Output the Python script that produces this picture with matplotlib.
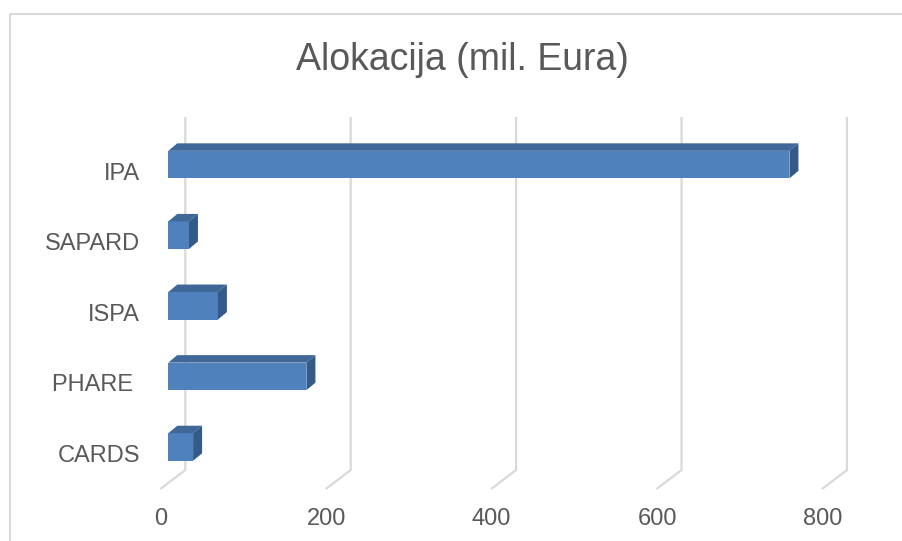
import numpy as np
import matplotlib
matplotlib.use('Agg')
import matplotlib.pyplot as plt
from matplotlib.patches import Polygon
from matplotlib.lines import Line2D

# data (mil. Eura)
categories = ['CARDS', 'PHARE ', 'ISPA', 'SAPARD', 'IPA']
values = [30, 167, 60, 25, 751]
xticks = [0, 200, 400, 600, 800]

plt.rcParams['font.family'] = ['Liberation Sans', 'DejaVu Sans']
TXT = '#595959'
GRID = '#D9D9D9'
FRONT = '#4F81BD'
TOP = '#3F6899'
SIDE = '#335A88'

W, H = 903, 541
fig = plt.figure(figsize=(W / 100, H / 100), dpi=100)
# plot area (pixels): left 150, right 880, top 100, bottom 495
ax = fig.add_axes([150 / W, 46 / H, 730 / W, 395 / H])
ax.set_xlim(-22.1, 860.5)
ax.set_ylim(-0.68, 4.915)
ax.axis('off')

# pixel -> data units
sx = 730 / (860.5 + 22.1)
sy = 395 / (4.915 + 0.68)
def ux(px):
    return px / sx
def uy(px):
    return px / sy

ypos = np.arange(len(categories))

# back wall gridlines with the slanted floor part
y_top, y_corner = 4.675, -0.326
for v in xticks:
    xb = v + ux(17)
    ax.plot([xb, xb, xb - ux(25)], [y_top, y_corner, y_corner - uy(19)],
            color=GRID, lw=1.6, zorder=1, solid_joinstyle='miter',
            solid_capstyle='butt')

# 3d-ish bars: front face + top face + right face
h = 0.39
dx, dy = ux(9), uy(7.5)
ax.barh(ypos, values, height=h, color=FRONT, linewidth=0, zorder=3)
for y, v in zip(ypos, values):
    top = y + h / 2
    bot = y - h / 2
    ax.add_patch(Polygon([(0, top), (v, top), (v + dx, top + dy), (dx, top + dy)],
                         closed=True, facecolor=TOP, edgecolor='none', zorder=3))
    ax.add_patch(Polygon([(v, bot), (v, top), (v + dx, top + dy), (v + dx, bot + dy)],
                         closed=True, facecolor=SIDE, edgecolor='none', zorder=3))

# category labels (front plane)
for y, name in zip(ypos, categories):
    ax.text(ux(-28.3), y - uy(15), name, ha='right', va='baseline',
            fontsize=17, color=TXT)

# value axis labels
for v in xticks:
    ax.text(v - ux(7.5), -1.105, str(v), ha='center', va='baseline',
            fontsize=17, color=TXT)

# title
fig.text(462.5 / W, 1 - 70 / H, 'Alokacija (mil. Eura)', ha='center',
         va='baseline', fontsize=27, color=TXT)

# chart border (only left and top are visible)
fig.add_artist(Line2D([10 / W, 10 / W, 1], [0, 1 - 14 / H, 1 - 14 / H],
                      color=GRID, lw=1.5))

fig.savefig('out.png', dpi=100)
